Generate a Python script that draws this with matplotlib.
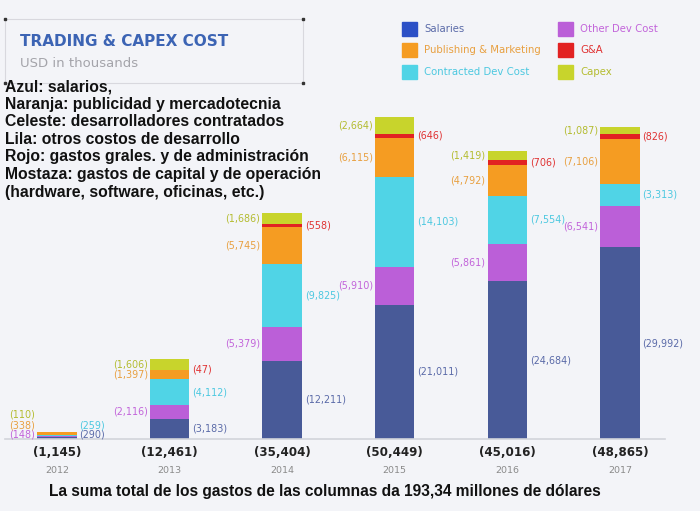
import matplotlib.pyplot as plt
from matplotlib.patches import Rectangle

# data (USD in thousands)
years = ['2012', '2013', '2014', '2015', '2016', '2017']
salaries = [290, 3183, 12211, 21011, 24684, 29992]
other_dev = [148, 2116, 5379, 5910, 5861, 6541]
contracted_dev = [259, 4112, 9825, 14103, 7554, 3313]
publishing = [338, 1397, 5745, 6115, 4792, 7106]
g_and_a = [0, 47, 558, 646, 706, 826]
capex = [110, 1606, 1686, 2664, 1419, 1087]

series_names = ['Salaries', 'Other Dev Cost', 'Contracted Dev Cost',
                'Publishing & Marketing', 'G&A', 'Capex']
notes = ['Azul: salarios,',
         'Naranja: publicidad y mercadotecnia',
         'Celeste: desarrolladores contratados',
         'Lila: otros costos de desarrollo',
         'Rojo: gastos grales. y de administración',
         'Mostaza: gastos de capital y de operación',
         '(hardware, software, oficinas, etc.)']
footer = 'La suma total de los gastos de las columnas da 193,34 millones de dólares'

series = [salaries, other_dev, contracted_dev, publishing, g_and_a, capex]
bar_colors = ['#485a98', '#bb5fd8', '#50d4e6', '#f59c22', '#e22222', '#c8d42c']
legend_colors = ['#2c50c6', '#bb5fd8', '#50d4e6', '#f59c22', '#e22222', '#c8d42c']
label_colors = ['#5a6aa8', '#c264da', '#4cc8e0', '#e8a040', '#e03232', '#b4bc30']
label_side = ['right', 'left', 'right', 'left', 'right', 'left']

bg = '#f3f4f8'
W, H = 700, 511
fig = plt.figure(figsize=(W / 100, H / 100), dpi=100, facecolor=bg)

# main axes: baseline at y=439px
ax = fig.add_axes([5 / W, (H - 439) / H, 660 / W, 429 / H])
ax.set_facecolor(bg)
ax.patch.set_alpha(0)
x = list(range(len(years)))
width = 0.35
bottoms = [0] * len(years)
for vals, col in zip(series, bar_colors):
    ax.bar(x, vals, width, bottom=bottoms, color=col, edgecolor='none')
    bottoms = [b + v for b, v in zip(bottoms, vals)]
totals = bottoms

ax.set_xlim(-0.462, 5.40)
ax.set_ylim(0, 67136)
for s in ['top', 'right', 'left']:
    ax.spines[s].set_visible(False)
ax.spines['bottom'].set_color('#d2d4da')
ax.spines['bottom'].set_linewidth(1.2)
ax.set_yticks([])
ax.set_xticks(x)
ax.set_xticklabels([])
ax.tick_params(axis='x', length=0)

# value labels
lab_font = dict(fontsize=6.9, family='DejaVu Sans')
# special stacked offsets (points) for the tiny 2012 bar
small_offsets = {0: 2.9, 1: 2.9, 2: 10.0, 3: 10.0, 5: 17.3}
for i in x:
    base = 0
    for k, vals in enumerate(series):
        v = vals[i]
        if v == 0:
            continue
        side = label_side[k]
        dx = 2 if side == 'right' else -1.5
        xpos = i + width / 2 if side == 'right' else i - width / 2
        ha = 'left' if side == 'right' else 'right'
        if i == 0:
            ypos, dy = 0, small_offsets[k]
        else:
            ypos, dy = base + v / 2, 0
        ax.annotate('({:,})'.format(v), (xpos, ypos), xytext=(dx, dy),
                    textcoords='offset points', ha=ha, va='center',
                    color=label_colors[k], **lab_font)
        base += v
    # totals and years under the axis
    ax.annotate('({:,})'.format(totals[i]), (i, 0), xytext=(0, -9.5),
                textcoords='offset points', ha='center', va='center',
                fontsize=8.6, fontweight='bold', color='#222222')
    ax.annotate(years[i], (i, 0), xytext=(0, -22.5),
                textcoords='offset points', ha='center', va='center',
                fontsize=6.8, color='#8a8a8a')

# title box
box = Rectangle((5 / W, 1 - 83 / H), 298 / W, 64 / H, transform=fig.transFigure,
                fill=False, edgecolor='#d8d8de', linewidth=0.8)
fig.patches.append(box)
for cx, cy in [(5, 19), (303, 19), (5, 83), (303, 83)]:
    fig.patches.append(Rectangle(((cx - 1) / W, 1 - (cy + 1) / H), 2 / W, 2 / H,
                                 transform=fig.transFigure, color='#333333'))
fig.text(20 / W, 1 - 42 / H, 'TRADING & CAPEX COST', fontsize=11, fontweight='bold',
         color='#3c64b4', va='center', ha='left', family='DejaVu Sans')
fig.text(20 / W, 1 - 63 / H, 'USD in thousands', fontsize=9.5, color='#a4a4aa',
         va='center', ha='left', family='DejaVu Sans')

# spanish notes
for j, line in enumerate(notes):
    fig.text(5 / W, 1 - (87 + j * 17.5) / H, line, fontsize=11.3, fontweight='bold',
             color='#111111', va='center', ha='left', family='Liberation Sans')

# legend
pos_map = {0: (402, 29), 1: (558, 29), 3: (402, 50), 4: (558, 50), 2: (402, 72), 5: (558, 72)}
for k in range(len(series_names)):
    px, py = pos_map[k]
    fig.patches.append(Rectangle((px / W, 1 - (py + 7) / H), 15 / W, 14 / H,
                                 transform=fig.transFigure, color=legend_colors[k]))
    fig.text((px + 22) / W, 1 - py / H, series_names[k], fontsize=7.3, color=label_colors[k],
             va='center', ha='left', family='DejaVu Sans')

fig.text(325 / W, 1 - 491 / H, footer, fontsize=11.2, fontweight='bold',
         color='#111111', va='center', ha='center', family='Liberation Sans')

fig.savefig('out.png', dpi=100, facecolor=bg)
